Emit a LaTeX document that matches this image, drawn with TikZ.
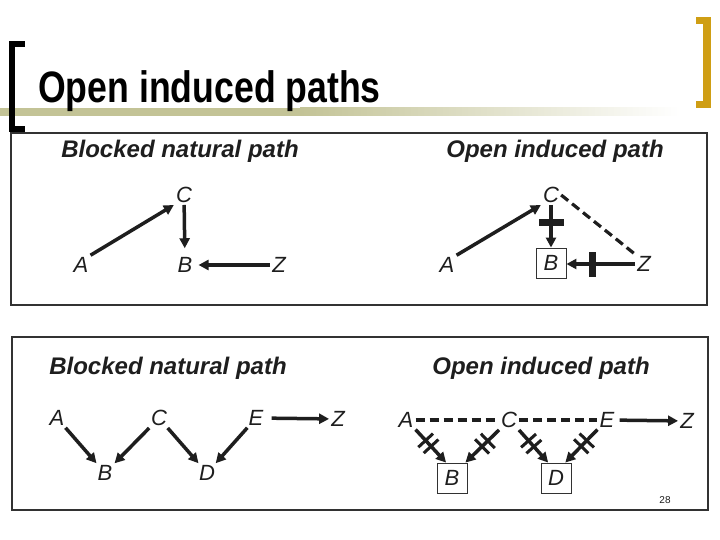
\documentclass[tikz,border=0pt]{standalone}
\usepackage{fontspec}
\usepackage{graphicx}
\setmainfont{Liberation Sans}
\usetikzlibrary{arrows.meta,decorations.markings}
\definecolor{olivebar}{RGB}{195,195,150}
\definecolor{goldbar}{RGB}{207,158,20}
\definecolor{ink}{RGB}{30,30,30}
\definecolor{frame}{RGB}{50,50,50}
\begin{document}
\begin{tikzpicture}[x=1pt,y=-1pt,
  letter/.style={font=\fontsize{22}{24}\selectfont\itshape, text=ink, inner sep=2pt},
  boxed/.style={letter, draw=frame, line width=0.9pt, minimum width=30pt, minimum height=30pt},
  heading/.style={font=\fontsize{24}{28}\selectfont\bfseries\itshape, text=ink, anchor=base, inner sep=0pt},
  arr/.style={line width=3.5pt, draw=ink, -{Triangle[length=10pt,width=10pt]}},
  dline/.style={line width=3.2pt, draw=ink, dash pattern=on 9pt off 5pt},
  onebar/.style={postaction={decorate}, decoration={markings, mark=at position #1 with {\fill[ink] (-3.5,-12.5) rectangle (3.5,12.5);}}},
  twobar/.style={postaction={decorate}, decoration={markings, mark=at position #1 with {\fill[ink] (-5.5,-10) rectangle (-2.5,10); \fill[ink] (2.5,-10) rectangle (5.5,10);}}},
  panel/.style={draw=frame, line width=1.2pt}
]
\useasboundingbox (0,0) rectangle (720,540);
\fill[white] (0,0) rectangle (720,540);

% header decoration
\fill[olivebar] (0,108) rectangle (300,116);
\shade[left color=olivebar, right color=white] (300,108) rectangle (680,116);
\fill[black] (9,41) rectangle (15,132);
\fill[black] (9,41) rectangle (25,47);
\fill[black] (9,126) rectangle (25,132);
\fill[goldbar] (703,17) rectangle (711,108);
\fill[goldbar] (696,17) rectangle (711,24);
\fill[goldbar] (696,101) rectangle (711,108);
\node[anchor=base west, inner sep=0pt] (title) at (38,103)
  {\scalebox{0.81}[1]{\fontsize{44}{50}\selectfont\bfseries Open induced paths}};

% panels
\draw[panel] (11,133) rectangle (707,305);
\draw[panel] (12,337) rectangle (708,510);

\node[heading] (h1) at (180,158) {Blocked natural path};
\node[heading] (h2) at (555,158) {Open induced path};
\node[heading] (h3) at (168,374) {Blocked natural path};
\node[heading] (h4) at (541,374) {Open induced path};

% top-left
\node[letter] (tlC) at (184,195) {C};
\node[letter] (tlA) at (81,265) {A};
\node[letter] (tlB) at (185,265) {B};
\node[letter] (tlZ) at (279,265) {Z};
\draw[arr] (tlA.north east) -- (tlC.south west);
\draw[arr, shorten >=7pt] (tlC) -- (tlB);
\draw[arr, shorten >=4pt] (tlZ) -- (tlB);

% top-right
\node[letter] (trC) at (551,195) {C};
\node[letter] (trA) at (447,265) {A};
\node[boxed] (trB) at (551,263) {B};
\node[letter] (trZ) at (644,264) {Z};
\draw[arr] (trA.north east) -- (trC.south west);
\draw[arr, onebar=0.42] (trC) -- (trB);
\draw[arr, onebar=0.62] (trZ.west) -- (trZ.west -| trB.east);
\draw[dline] (trC.east) -- (trZ.north west);

% bottom-left
\node[letter] (blA) at (57,418) {A};
\node[letter] (blC) at (159,418) {C};
\node[letter] (blE) at (256,418) {E};
\node[letter] (blZ) at (338,419) {Z};
\node[letter] (blB) at (105,473) {B};
\node[letter] (blD) at (207,473) {D};
\draw[arr] (blA) -- (blB);
\draw[arr] (blC) -- (blB);
\draw[arr] (blC) -- (blD);
\draw[arr] (blE) -- (blD);
\draw[arr, shorten <=6pt] (blE) -- (blZ);

% bottom-right
\node[letter] (brA) at (406,420) {A};
\node[letter] (brC) at (509,420) {C};
\node[letter] (brE) at (607,420) {E};
\node[letter] (brZ) at (687,421) {Z};
\node[boxed] (brB) at (452,478) {B};
\node[boxed] (brD) at (556,478) {D};
\draw[dline] (brA) -- (brC);
\draw[dline] (brC) -- (brE);
\draw[arr, shorten <=3pt] (brE) -- (brZ);
\draw[arr, twobar=0.42] (brA.-45) -- (brB.111);
\draw[arr, twobar=0.42] (brC.-135) -- (brB.49);
\draw[arr, twobar=0.42] (brC.-45) -- (brD.117);
\draw[arr, twobar=0.42] (brE.-135) -- (brD.59);

\node[font=\fontsize{10}{12}\selectfont, text=ink] (pg) at (665,500) {28};
\end{tikzpicture}
\end{document}
